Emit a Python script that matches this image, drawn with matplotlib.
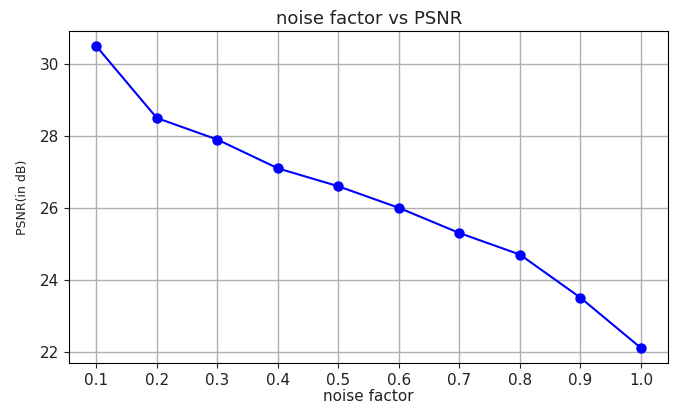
import matplotlib
matplotlib.use("Agg")
import matplotlib.pyplot as plt

noise_factor = [0.1, 0.2, 0.3, 0.4, 0.5, 0.6, 0.7, 0.8, 0.9, 1.0]
psnr = [30.5, 28.5, 27.9, 27.1, 26.6, 26.0, 25.3, 24.7, 23.5, 22.1]
x_ticks = [0.1, 0.2, 0.3, 0.4, 0.5, 0.6, 0.7, 0.8, 0.9, 1.0]

fig = plt.figure(figsize=(6.77, 4.03), dpi=100)
ax = fig.add_axes([0.102, 0.099, 0.885, 0.824])
ax.plot(noise_factor, psnr, color="blue", marker="o", markersize=6.5, linewidth=1.5)
ax.set_xticks(x_ticks)
ax.set_xticklabels([f"{v:.1f}" for v in x_ticks])
ax.grid(True, color="#b0b0b0", linewidth=1.0)
ax.tick_params(labelsize=11, colors="#222222")
ax.set_title("noise factor vs PSNR", fontsize=13, color="#222222", pad=5)
ax.set_xlabel("noise factor", fontsize=11, color="#222222", labelpad=1)
ax.set_ylabel("PSNR(in dB)", fontsize=9, color="#222222", labelpad=8)
fig.savefig("out.png", dpi=100)
